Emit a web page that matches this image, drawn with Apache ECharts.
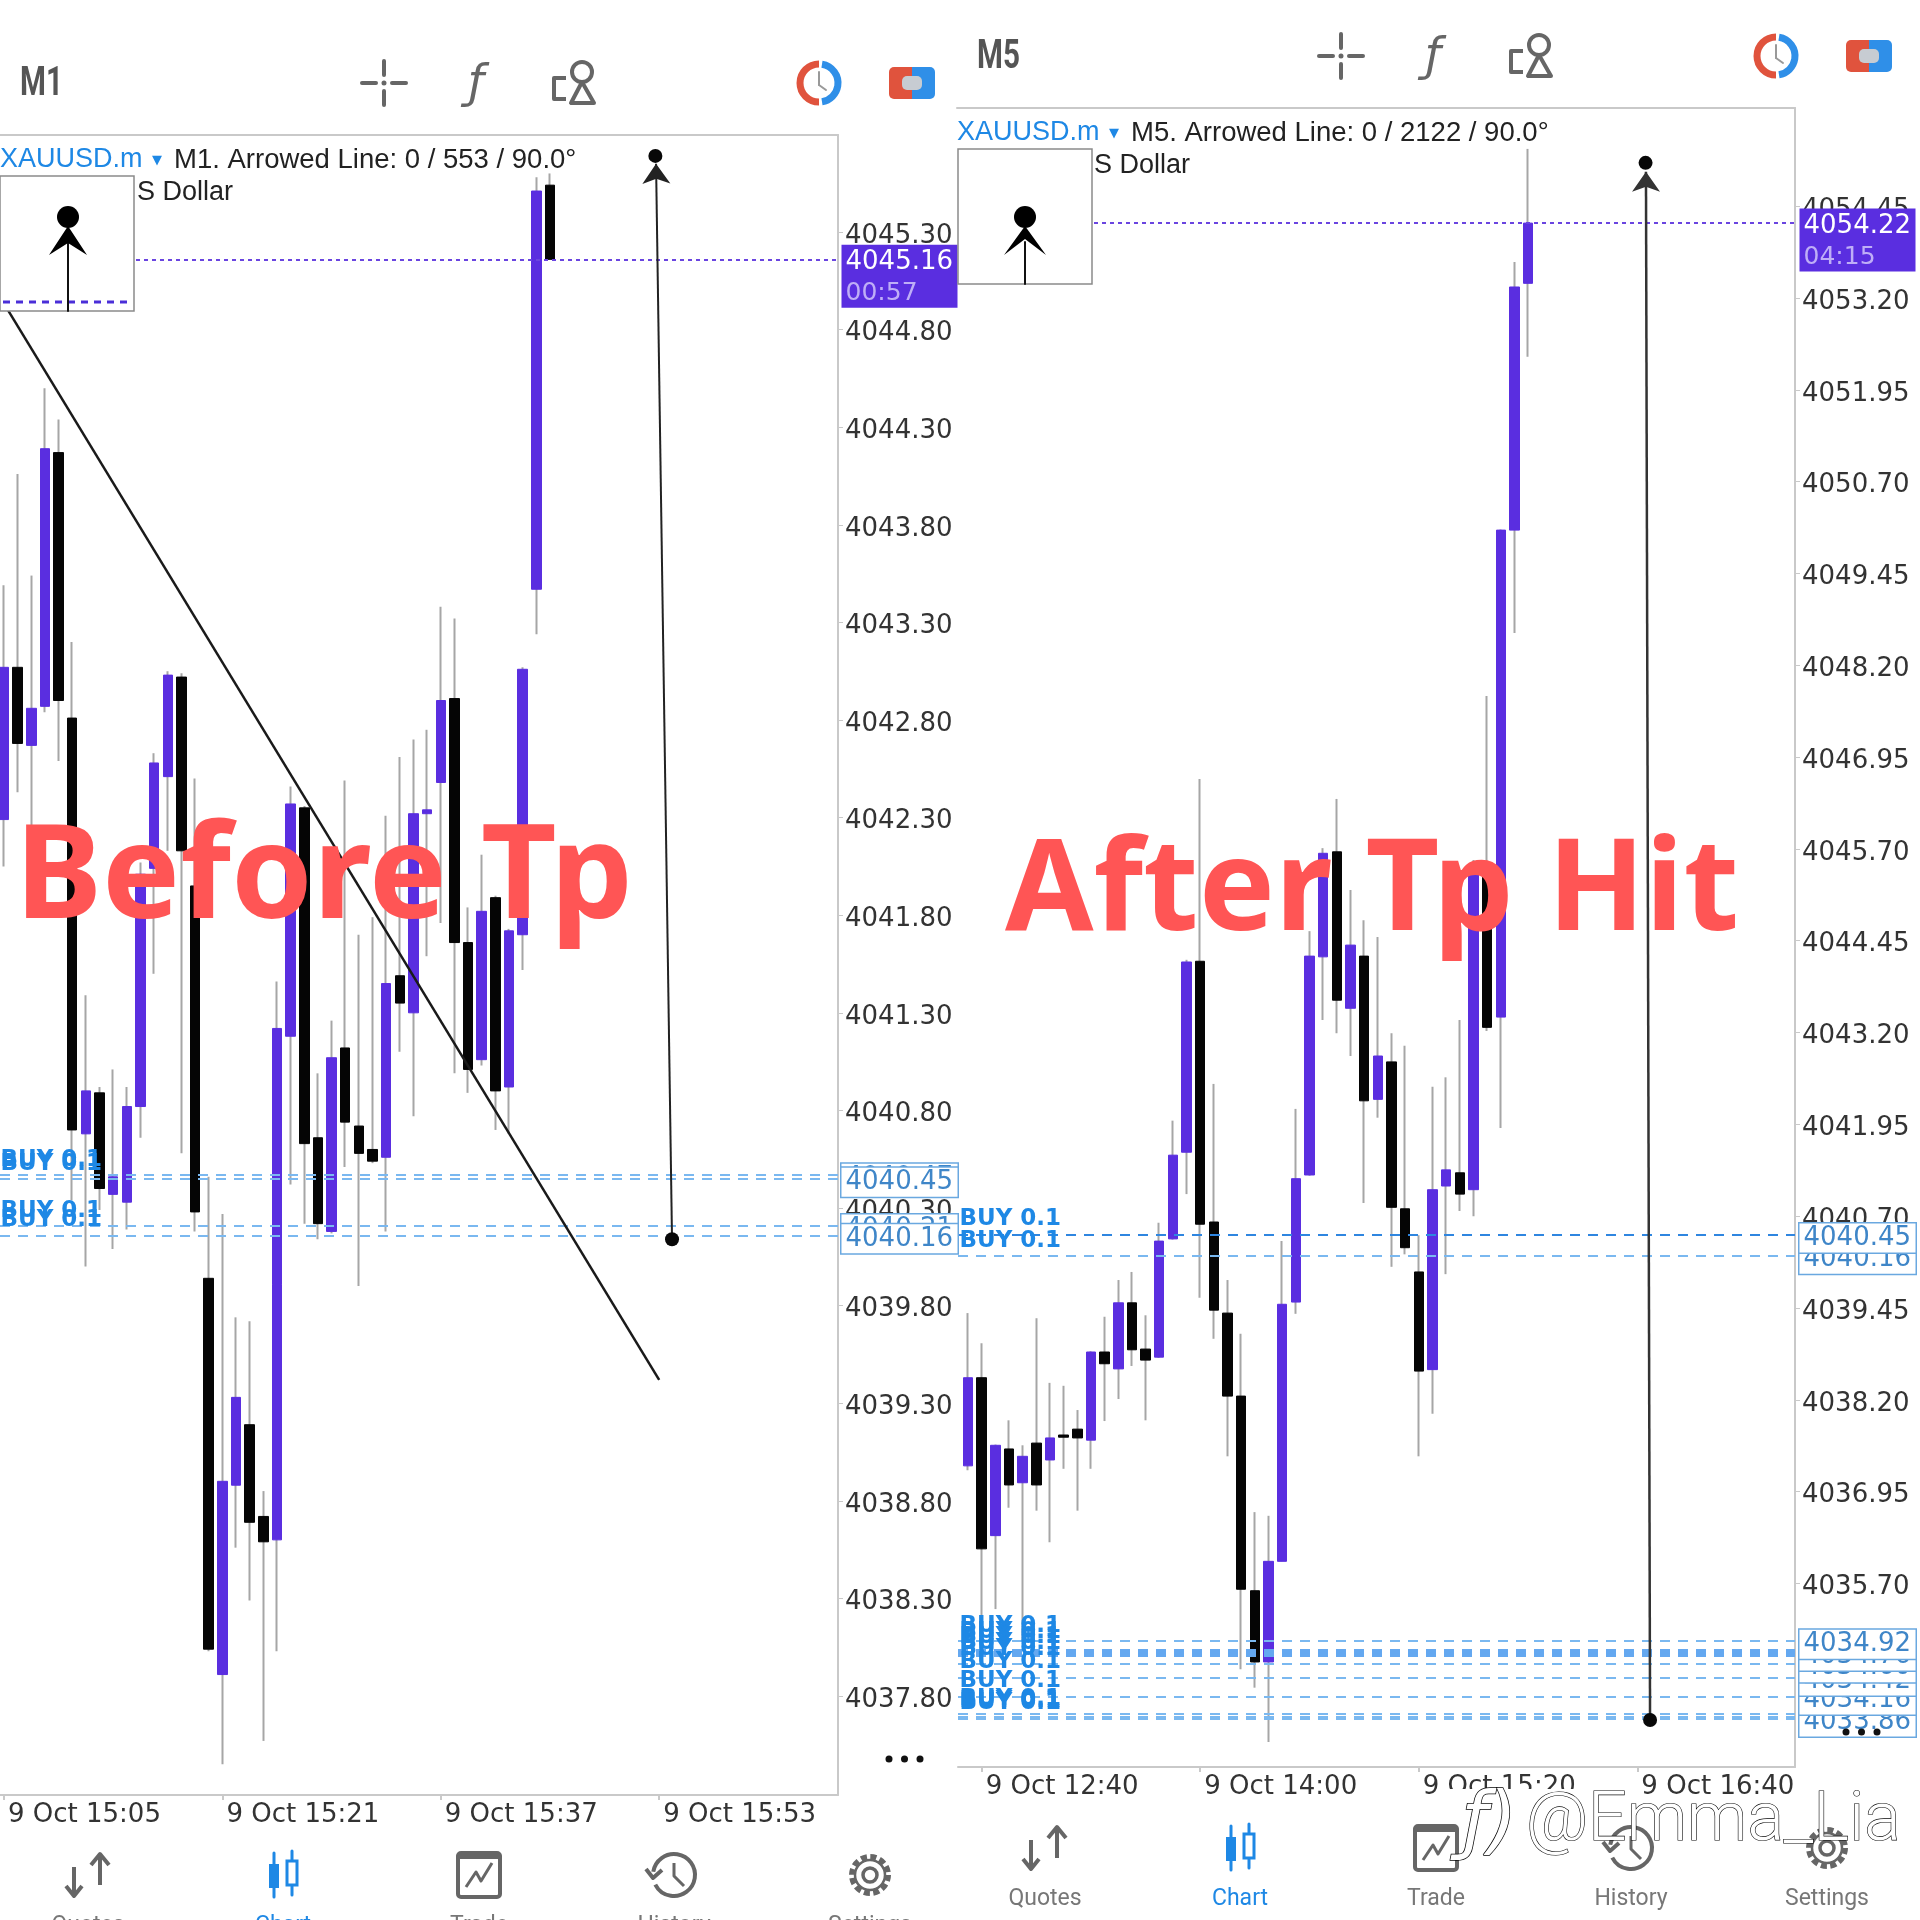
<!DOCTYPE html>
<html><head><meta charset="utf-8">
<style>html,body{margin:0;padding:0;background:#fff}#c{width:1920px;height:1920px}</style>
<script src="https://cdn.jsdelivr.net/npm/echarts@6/dist/echarts.min.js"></script>
</head><body><div id="c"></div>
<script>
// ---------- left panel (M1) ----------
const leftOpen  = [4042.29,4043.07,4042.67,4042.87,4044.17,4042.81,4040.68,4040.89,4040.37,4040.33,4040.82,4042.04,4042.51,4043.02,4041.95,4039.94,4037.91,4038.88,4039.19,4038.72,4038.60,4041.18,4042.35,4040.66,4040.18,4041.12,4040.72,4040.60,4040.56,4041.49,4041.30,4042.32,4042.48,4042.91,4041.66,4041.06,4041.89,4040.92,4041.70,4043.47,4045.54];
const leftClose = [4043.07,4042.68,4042.86,4044.19,4042.90,4040.70,4040.90,4040.40,4040.46,4040.82,4042.01,4042.58,4043.03,4042.13,4040.28,4038.04,4038.90,4039.33,4038.69,4038.59,4041.22,4042.37,4040.63,4040.22,4041.07,4040.74,4040.58,4040.54,4041.45,4041.35,4042.32,4042.34,4042.90,4041.66,4041.01,4041.82,4040.90,4041.72,4043.06,4045.51,4045.16];
const leftLow   = [4042.05,4042.43,4042.24,4042.84,4042.59,4040.34,4040.00,4040.29,4040.09,4040.19,4040.66,4041.50,4042.13,4040.58,4040.18,4038.03,4037.45,4038.56,4038.29,4037.57,4038.03,4040.42,4040.22,4040.14,4040.17,4040.51,4039.90,4040.53,4040.18,4041.10,4040.77,4041.59,4041.76,4040.99,4040.89,4041.03,4040.70,4040.68,4041.52,4043.24,4045.16];
const leftHigh  = [4043.49,4044.06,4043.54,4044.50,4044.34,4043.20,4041.39,4040.92,4041.01,4040.92,4042.07,4042.63,4043.05,4043.04,4042.50,4040.46,4040.27,4039.74,4039.72,4038.85,4041.46,4042.46,4042.36,4040.99,4041.26,4042.49,4041.70,4041.79,4042.31,4042.61,4042.70,4042.75,4043.38,4043.32,4041.84,4042.11,4041.90,4041.73,4043.07,4045.58,4045.60];
const leftPriceTicks = [4045.30,4044.80,4044.30,4043.80,4043.30,4042.80,4042.30,4041.80,4041.30,4040.80,4040.30,4039.80,4039.30,4038.80,4038.30,4037.80];
const leftTimeIndex  = [0,16,32,48];
const leftTimeLabels = ['9 Oct 15:05','9 Oct 15:21','9 Oct 15:37','9 Oct 15:53'];
const leftOrders = [4040.47,4040.45,4040.21,4040.16];
const leftBuyLabels = [4040.47,4040.45,4040.21,4040.16];
const leftOrderTags = [4040.47,4040.45,4040.21,4040.16];
const leftBid = 4045.16, leftCountdown = '00:57';
const leftTrend = [[0.29,4044.90],[48,4039.42]];
const leftArrow = [[47.77,4045.65],[48.94,4040.14]];
const leftArrowDots = [[47.72,4045.69],[48.94,4040.14]];

// ---------- right panel (M5) ----------
const rightOpen  = [4037.30,4038.50,4036.35,4037.53,4037.07,4037.61,4037.38,4037.72,4037.80,4037.65,4038.85,4038.62,4039.52,4038.89,4038.78,4040.39,4041.57,4044.17,4040.62,4039.38,4038.25,4035.60,4034.63,4036.00,4039.53,4041.26,4044.23,4045.66,4043.53,4044.24,4042.29,4042.80,4040.80,4039.94,4038.61,4041.11,4041.29,4041.06,4045.48,4043.41,4050.04,4053.40];
const rightClose = [4038.50,4036.17,4037.58,4037.04,4037.43,4037.04,4037.68,4037.69,4037.68,4038.85,4038.69,4039.52,4038.88,4038.74,4040.36,4041.53,4044.16,4040.59,4039.42,4038.25,4035.62,4034.63,4036.00,4039.50,4041.21,4044.24,4045.64,4043.64,4044.39,4042.27,4042.88,4040.82,4040.27,4038.59,4041.06,4041.33,4041.00,4045.48,4043.27,4050.04,4053.35,4054.22];
const rightLow   = [4037.24,4034.93,4035.35,4036.73,4034.90,4036.69,4036.26,4037.26,4036.69,4037.26,4037.91,4038.21,4038.66,4037.92,4038.77,4040.38,4041.00,4039.59,4039.03,4037.43,4034.53,4034.28,4033.54,4036.00,4039.37,4041.25,4043.37,4043.19,4042.88,4040.88,4042.04,4040.01,4040.18,4037.43,4038.01,4039.91,4040.77,4040.70,4043.22,4041.90,4048.64,4052.40];
const rightHigh  = [4039.38,4038.97,4037.59,4037.92,4037.58,4039.31,4038.43,4038.39,4038.06,4038.86,4039.33,4039.83,4039.94,4039.35,4040.61,4042.00,4044.19,4046.65,4042.50,4039.83,4039.10,4036.67,4036.62,4040.36,4042.16,4044.58,4045.71,4046.38,4045.14,4044.73,4044.50,4043.19,4043.02,4040.44,4042.46,4042.59,4043.37,4045.55,4047.78,4050.05,4053.69,4055.23];
const rightPriceTicks = [4054.45,4053.20,4051.95,4050.70,4049.45,4048.20,4046.95,4045.70,4044.45,4043.20,4041.95,4040.70,4039.45,4038.20,4036.95,4035.70];
const rightTimeIndex  = [1,17,33,49];
const rightTimeLabels = ['9 Oct 12:40','9 Oct 14:00','9 Oct 15:20','9 Oct 16:40'];
const rightOrders = [4040.45,4040.16,4034.92,4034.76,4034.60,4034.42,4034.16,4033.92,4033.89,4033.86];
const rightBuyLabels = [4040.45,4040.16,4034.92,4034.84,4034.76,4034.68,4034.60,4034.42,4034.16,4033.92,4033.89,4033.86];
const rightOrderTags = [4033.86,4034.16,4034.42,4034.60,4034.76,4034.92,4040.16,4040.45];
const rightBid = 4054.22, rightCountdown = '04:15';
const rightArrow = [[49.63,4054.92],[49.93,4033.84]];
const rightArrowDots = [[49.6,4055.04],[49.93,4033.84]];

const PURPLE='#5a2ee0', BLUE='#1e88e5', AXIS='#c9c9c9', TXT='#333', ICON='#666', RED='#ff5555';
const numFont='"DejaVu Sans"', uiFont='"Liberation Sans"';

function panel(ix,c){
  const wick=c.open.map((o,i)=>[i,o,c.close[i],c.low[i],c.high[i]]);
  const body=c.open.map((o,i)=>[i,o,c.close[i],Math.min(o,c.close[i]),Math.max(o,c.close[i])]);
  const lines=c.orders.map(v=>({yAxis:v,lineStyle:{
      color:(c.darkOrder===v)?'#2f86e0':(c.thickOrder===v?'#64a8f0':'#7ab8f0'),
      width:c.thickOrder===v?8:2,type:[10,8]}}));
  lines.push({yAxis:c.bid,lineStyle:{color:'#6a45e0',width:2,type:[4,4]}});
  const tag=v=>({value:[c.xMax,v],label:{show:true,position:'right',distance:c.tagGap,offset:[0,3.5],formatter:v.toFixed(2),
      fontFamily:numFont,fontSize:26,color:'#3f86c8',backgroundColor:'#fff',borderColor:'#6aa8e0',borderWidth:1.5,
      padding:[3,4,1,4],width:108,height:25,lineHeight:25}});
  return {
    grid:{left:c.left,top:c.top,width:c.w,height:c.h,show:false},
    xAxis:{type:'value',gridIndex:ix,min:c.xMin,max:c.xMax,splitLine:{show:false},
      axisLine:{show:true,onZero:false,lineStyle:{color:AXIS,width:2}},
      axisTick:{show:true,length:5,customValues:c.timeIndex,lineStyle:{color:AXIS,width:2}},
      axisLabel:{customValues:c.timeIndex,formatter:v=>c.timeLabels[c.timeIndex.indexOf(v)]||'',
        align:'left',margin:7,padding:[0,0,0,4],fontFamily:numFont,fontSize:26,color:TXT,showMinLabel:true,showMaxLabel:true,hideOverlap:false}},
    yAxis:{type:'value',gridIndex:ix,position:'right',min:c.yMin,max:c.yMax,scale:true,splitLine:{show:false},
      axisLine:{show:true,onZero:false,lineStyle:{color:AXIS,width:2}},
      axisTick:{show:true,length:5,customValues:c.priceTicks,lineStyle:{color:AXIS,width:1}},
      axisLabel:{customValues:c.priceTicks,formatter:v=>v.toFixed(2),margin:7,verticalAlign:'top',lineHeight:8,fontFamily:numFont,fontSize:26,color:TXT,hideOverlap:false}},
    series:[
      {type:'candlestick',name:c.name+' wicks',xAxisIndex:ix,yAxisIndex:ix,z:2,barWidth:1,data:wick,silent:true,
       itemStyle:{color:'#a6a6a6',color0:'#a6a6a6',borderColor:'#a6a6a6',borderColor0:'#a6a6a6',borderWidth:2}},
      {type:'candlestick',name:c.name+' bodies',xAxisIndex:ix,yAxisIndex:ix,z:3,barWidth:10,data:body,silent:true,
       itemStyle:{color:PURPLE,color0:'#050505',borderColor:PURPLE,borderColor0:'#050505',borderWidth:1},
       markLine:{silent:true,symbol:'none',animation:false,z:5,label:{show:false},
         data:[...lines,
           ...c.segments.map(s=>[{coord:s.a,symbol:'none',lineStyle:s.style,label:{show:false}},{coord:s.b,symbol:s.sym,symbolSize:[21,20],lineStyle:s.style,label:{show:false}}])]}},
      {type:'scatter',name:c.name+' arrow ends',xAxisIndex:ix,yAxisIndex:ix,z:6,clip:false,symbolSize:14,data:c.dots,silent:true,itemStyle:{color:'#080808',opacity:1}},
      {type:'scatter',name:c.name+' buy labels',xAxisIndex:ix,yAxisIndex:ix,z:6,clip:false,symbolSize:1,silent:true,itemStyle:{color:'rgba(0,0,0,0)',opacity:1},
       data:c.buy.map(v=>({value:[c.xMin,v],label:{show:true,position:'right',distance:c.buyGap,offset:[0,-15],formatter:'BUY 0.1',
          fontFamily:numFont,fontWeight:'bold',fontSize:23,color:BLUE}}))},
      {type:'scatter',name:c.name+' order tags',xAxisIndex:ix,yAxisIndex:ix,z:7,clip:false,symbolSize:1,silent:true,itemStyle:{color:'rgba(0,0,0,0)',opacity:1},
       data:[...c.orderTags.map(tag),
         {value:[c.xMax,c.bid],label:{show:true,position:'right',distance:c.tagGap,offset:[0,17],formatter:'{a|'+c.bid.toFixed(2)+'}\n{b|'+c.countdown+'}',
           backgroundColor:PURPLE,padding:[0,3,0,4],
           rich:{a:{fontFamily:numFont,fontSize:26,color:'#fff',lineHeight:35,width:109},b:{fontFamily:numFont,fontSize:25,color:'#bfaef7',lineHeight:28,width:109}}}}]}
    ]};
}

const left=panel(0,{name:'M1',left:0,top:135,w:838,h:1660,xMin:-0.293,xMax:61.1,yMin:4037.293,yMax:4045.797,
  open:leftOpen,close:leftClose,low:leftLow,high:leftHigh,priceTicks:leftPriceTicks,timeIndex:leftTimeIndex,timeLabels:leftTimeLabels,
  orders:leftOrders,buy:leftBuyLabels,orderTags:leftOrderTags,bid:leftBid,countdown:leftCountdown,tagGap:3,buyGap:0,dots:leftArrowDots,
  segments:[{a:leftTrend[0],b:leftTrend[1],sym:'none',style:{color:'#1a1a1a',width:2.5,type:'solid'}},
            {a:leftArrow[1],b:leftArrow[0],sym:'arrow',style:{color:'#222',width:2,type:'solid'}}]});
const right=panel(1,{name:'M5',left:958,top:108,w:837,h:1659,xMin:-0.732,xMax:60.54,yMin:4033.20,yMax:4055.787,
  open:rightOpen,close:rightClose,low:rightLow,high:rightHigh,priceTicks:rightPriceTicks,timeIndex:rightTimeIndex,timeLabels:rightTimeLabels,
  orders:rightOrders,buy:rightBuyLabels,orderTags:rightOrderTags,darkOrder:4040.45,thickOrder:4034.76,bid:rightBid,countdown:rightCountdown,tagGap:4,buyGap:1,dots:rightArrowDots,
  segments:[{a:rightArrow[1],b:rightArrow[0],sym:'arrow',style:{color:'#333',width:2.5,type:'solid'}}]});

// ---------- app chrome ----------
const Z=100;
const L=(x1,y1,x2,y2,color=ICON,w=4)=>({type:'line',z:Z,silent:true,shape:{x1,y1,x2,y2},style:{stroke:color,lineWidth:w,lineCap:'round'}});
const P=(pts,color=ICON,w=4)=>({type:'polyline',z:Z,silent:true,shape:{points:pts},style:{stroke:color,lineWidth:w,fill:null,lineJoin:'round'}});
const T=(text,x,y,font,fill,extra={})=>({type:'text',z:Z,silent:true,x,y,scaleX:extra.scaleX||1,style:Object.assign({text,x:0,y:0,font,fill,align:'left',verticalAlign:'middle'},extra.style||{})});
const C=(cx,cy,r,stroke,w,fill=null,extra={})=>({type:'circle',z:Z,silent:true,shape:{cx,cy,r},style:Object.assign({stroke,lineWidth:w,fill},extra)});
const R=(x,y,width,height,fill,stroke=null,w=0,r=0)=>({type:'rect',z:Z,silent:true,shape:{x,y,width,height,r},style:{fill,stroke,lineWidth:w}});
const A=(cx,cy,r,a0,a1,stroke,w)=>({type:'arc',z:Z,silent:true,shape:{cx,cy,r,startAngle:a0,endAngle:a1,clockwise:true},style:{stroke,lineWidth:w,fill:null}});

function chrome(dx,dy,tf,pts,inset){
  const X=x=>x+dx,Y=y=>y+dy,e=[];
  e.push(L(X(0),Y(135),X(838),Y(135),AXIS,2));
  e.push(T(tf,X(20),Y(85),'bold 40px Roboto',"#555",{scaleX:.74}));
  const cx=X(384),cy=Y(83);
  e.push(L(cx-22,cy,cx-8,cy),L(cx+8,cy,cx+22,cy),L(cx,cy-22,cx,cy-8),L(cx,cy+8,cx,cy+22),C(cx,cy,1.5,ICON,2,ICON));
  e.push(T('ƒ',X(468),Y(85),'italic 46px "DejaVu Sans"',ICON));
  e.push(C(X(582),Y(72),10,ICON,4),P([[X(582),Y(82)],[X(571),Y(103)],[X(594),Y(103)],[X(582),Y(82)]]),P([[X(566),Y(78)],[X(554),Y(78)],[X(554),Y(99)],[X(566),Y(99)]]));
  e.push(A(X(819),Y(83),19,Math.PI*0.5,Math.PI*1.5,'#e0533d',7),A(X(819),Y(83),19,-Math.PI*0.45,Math.PI*0.45,'#2f8fe8',7));
  e.push(L(X(819),Y(72),X(819),Y(85),'#999',2),L(X(819),Y(85),X(826),Y(90),'#999',2));
  e.push(R(X(889),Y(67),23,32,'#e0533d',null,0,[5,0,0,5]),R(X(912),Y(67),23,32,'#2f8fe8',null,0,[0,5,5,0]),R(X(902),Y(76),20,14,'#c7ccd2',null,0,5));
  e.push(T('XAUUSD.m',X(0),Y(160),'27px '+uiFont,BLUE),T('▼',X(152),Y(161),'13px "DejaVu Sans"',BLUE));
  e.push(T(tf+'. Arrowed Line: 0 / '+pts+' / 90.0°',X(174),Y(160),'27.5px '+uiFont,'#222'));
  e.push(T('S Dollar',X(137),Y(193),'27px '+uiFont,'#222'));
  e.push(R(X(0)+(dx?1:0),Y(176),134,135,'#fff','#8a8a8a',1.5));
  if(inset.dash) e.push({type:'line',z:Z,silent:true,shape:{x1:X(3),y1:Y(302),x2:X(133),y2:Y(302)},style:{stroke:'#4a2ed8',lineWidth:3,lineDash:[7,6]}});
  const hx=X(68),hy=inset.hy;
  e.push(L(hx,hy+25,hx,Y(311),'#111',2),C(hx,hy,11,'#000',0,'#000'));
  e.push({type:'polygon',z:Z,silent:true,shape:{points:[[hx,hy+9],[hx+inset.w,hy+38],[hx,hy+inset.n],[hx-inset.w,hy+38]]},style:{fill:'#000'}});
  [0,1,2].forEach(i=>{ e.push(C(inset.dots[0]+i*15.5,inset.dots[1],3.5,'#000',0,'#111',{})); });
  const ny=Y(1875),xs=[88,283,479,674,870].map(X);
  e.push(P([[xs[0]-14,ny-8],[xs[0]-14,ny+20]]),P([[xs[0]-22,ny+11],[xs[0]-14,ny+21],[xs[0]-6,ny+11]]),P([[xs[0]+12,ny-20],[xs[0]+12,ny+10]]),P([[xs[0]+3,ny-10],[xs[0]+12,ny-21],[xs[0]+21,ny-10]]));
  e.push(L(xs[1]-9,ny-22,xs[1]-9,ny+22,BLUE,3),R(xs[1]-14,ny-11,10,24,BLUE),L(xs[1]+9,ny-24,xs[1]+9,ny+20,BLUE,3),R(xs[1]+4,ny-14,10,24,'#fff',BLUE,3));
  e.push(R(xs[2]-21,ny-22,42,44,null,ICON,4,3),L(xs[2]-21,ny-18,xs[2]+21,ny-18,ICON,4),P([[xs[2]-13,ny+12],[xs[2]-3,ny-3],[xs[2]+2,ny+6],[xs[2]+13,ny-12]],ICON,3));
  e.push(A(xs[3],ny,21,-Math.PI*0.95,Math.PI*0.85,ICON,4),P([[xs[3]-28,ny-6],[xs[3]-21,ny+3],[xs[3]-12,ny-5]],ICON,4),P([[xs[3],ny-12],[xs[3],ny+1],[xs[3]+10,ny+11]],ICON,3));
  e.push(C(xs[4],ny,18,ICON,6,null,{lineDash:[6,3.4]}),C(xs[4],ny,15,ICON,2.5),C(xs[4],ny,7,ICON,3.5));
  ['Quotes','Chart','Trade','History','Settings'].forEach((s,i)=>{
    e.push({type:'text',z:Z,silent:true,style:{text:s,x:xs[i],y:Y(1926),font:'23px Roboto',fill:i===1?BLUE:'#777',align:'center',verticalAlign:'middle'}});
  });
  return e;
}
const elements=[
  ...chrome(0,0,'M1','553',{hy:217,w:19,n:26,dash:true,dots:[889,1759]}),
  ...chrome(957,-27,'M5','2122',{hy:217,w:21,n:22,dots:[1846,1732]}),
  {type:'text',z:Z+2,silent:true,style:{text:'Before Tp',x:15,y:881,font:'bold 131px "Noto Sans"',fill:RED,align:'left',verticalAlign:'middle'}},
  {type:'text',z:Z+2,silent:true,style:{text:'After Tp Hit',x:1005,y:894,font:'bold 128px "Noto Sans"',fill:RED,align:'left',verticalAlign:'middle'}},
  {type:'rect',z:Z+1,silent:true,shape:{x:1448,y:1789,width:132,height:12},style:{fill:'#fff'}},
  {type:'text',z:Z+3,silent:true,style:{text:'ƒ)',x:1462,y:1826,font:'italic 74px "DejaVu Sans"',fill:'#fff',stroke:'#000',lineWidth:1.5,align:'left',verticalAlign:'middle'}},
  {type:'text',z:Z+3,silent:true,style:{text:'@Emma_Lia',x:1526,y:1823,font:'300 68px Roboto',fill:'#fff',stroke:'#000',lineWidth:1.2,align:'left',verticalAlign:'middle'}}
];

const chart=echarts.init(document.getElementById('c'),null,{renderer:'canvas'});
chart.setOption({
  animation:false,backgroundColor:'#fff',
  grid:[left.grid,right.grid],xAxis:[left.xAxis,right.xAxis],yAxis:[left.yAxis,right.yAxis],
  series:[...left.series,...right.series],
  graphic:{elements}
});
</script></body></html>
